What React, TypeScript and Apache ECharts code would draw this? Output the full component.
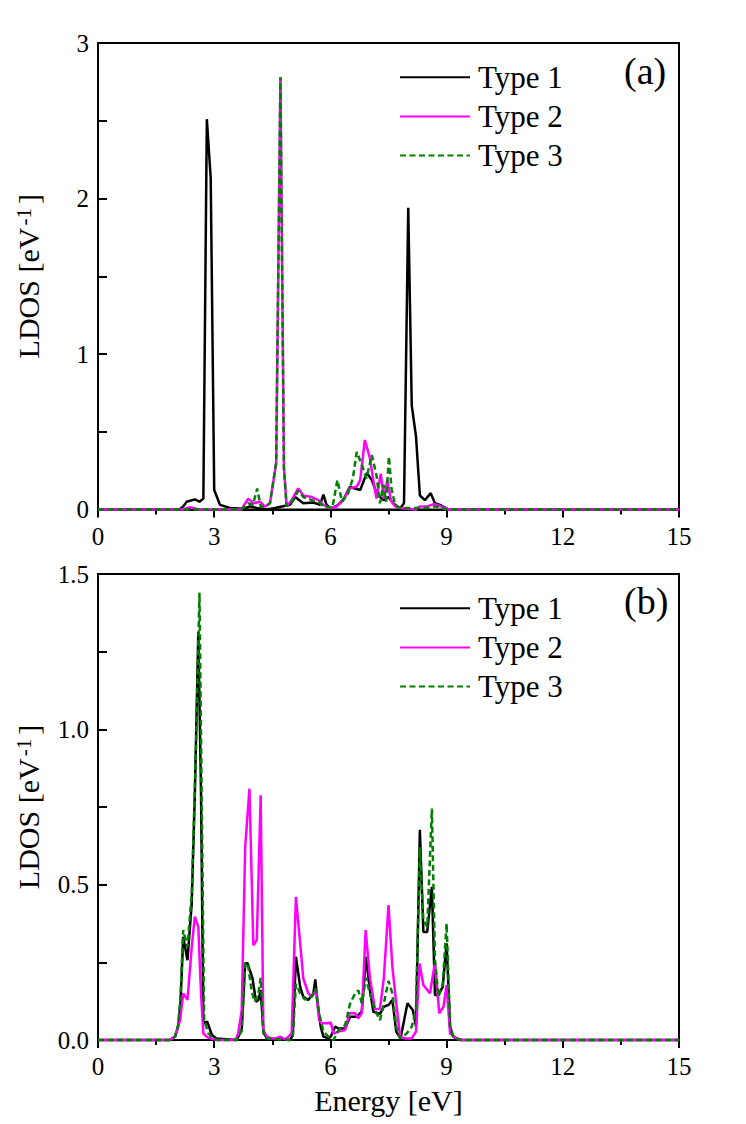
import React, { useEffect, useRef } from "react";
import * as echarts from "echarts";

// ---------- data (Energy [eV], LDOS [eV^-1]) ----------
const seriesNames = ["Type 1", "Type 2", "Type 3"];
const seriesColors = ["#000000", "#ff00ff", "#008000"];
const panelLabels = ["(a)", "(b)"];
const energyTicks = [0, 3, 6, 9, 12, 15];

// Panel (a)
const type1A: [number, number][] = [
  [0, 0], [2.1, 0], [2.2, 0.02], [2.29, 0.05], [2.5, 0.065], [2.62, 0.05], [2.72, 0.07],
  [2.81, 2.51], [2.91, 2.13], [3.0, 0.125], [3.15, 0.03], [3.41, 0.01], [3.75, 0.005],
  [3.92, 0.02], [4.1, 0.01], [4.36, 0.0], [4.57, 0.01], [4.96, 0.03], [5.09, 0.08],
  [5.3, 0.04], [5.56, 0.045], [5.73, 0.03], [5.82, 0.095], [5.9, 0.03], [6.03, 0.005],
  [6.2, 0.03], [6.35, 0.07], [6.5, 0.145], [6.77, 0.125], [6.94, 0.235], [7.07, 0.19],
  [7.2, 0.1], [7.37, 0.06], [7.5, 0.08], [7.62, 0.04], [7.8, 0.007], [7.9, 0.04],
  [8.01, 1.94], [8.1, 0.67], [8.21, 0.47], [8.31, 0.09], [8.44, 0.06], [8.59, 0.105],
  [8.7, 0.04], [8.83, 0.03], [9.05, 0], [15, 0],
];
const type2A: [number, number][] = [
  [0, 0], [2.2, 0], [2.375, 0.015], [2.6, 0], [3.7, 0], [3.88, 0.07], [4.01, 0.04],
  [4.18, 0.05], [4.31, 0.018], [4.44, 0.04], [4.6, 0.3], [4.71, 2.78], [4.8, 0.27],
  [4.87, 0.02], [5.0, 0.06], [5.17, 0.136], [5.3, 0.09], [5.52, 0.08], [5.69, 0.06],
  [5.82, 0.03], [5.99, 0.007], [6.16, 0.018], [6.33, 0.06], [6.5, 0.136], [6.68, 0.147],
  [6.77, 0.19], [6.89, 0.447], [7.02, 0.33], [7.1, 0.2], [7.19, 0.07], [7.3, 0.23],
  [7.38, 0.07], [7.47, 0.19], [7.56, 0.06], [7.67, 0.02], [7.8, 0.01], [8.2, 0],
  [8.31, 0.02], [8.5, 0.02], [8.67, 0.035], [8.85, 0.02], [9.05, 0], [15, 0],
];
const type3A: [number, number][] = [
  [0, 0], [3.7, 0], [3.88, 0.04], [4.0, 0.03], [4.11, 0.135], [4.2, 0.02], [4.31, 0.02],
  [4.44, 0.04], [4.6, 0.3], [4.71, 2.78], [4.8, 0.27], [4.87, 0.02], [5.0, 0.05],
  [5.17, 0.12], [5.3, 0.08], [5.52, 0.06], [5.69, 0.05], [5.82, 0.02], [6.05, 0.01],
  [6.18, 0.19], [6.3, 0.05], [6.45, 0.1], [6.58, 0.2], [6.68, 0.37], [6.81, 0.29],
  [6.93, 0.2], [7.07, 0.35], [7.19, 0.22], [7.28, 0.04], [7.37, 0.16], [7.44, 0.05],
  [7.51, 0.34], [7.58, 0.13], [7.67, 0.03], [7.8, 0.01], [8.5, 0.01], [8.7, 0.02],
  [9.0, 0], [15, 0],
];

// Panel (b)
const type1B: [number, number][] = [
  [0, 0], [1.86, 0], [1.99, 0.011], [2.07, 0.043], [2.13, 0.118], [2.2, 0.332], [2.31, 0.257],
  [2.42, 0.44], [2.5, 0.79], [2.59, 1.313], [2.66, 0.79], [2.72, 0.054], [2.82, 0.059],
  [2.94, 0.016], [3.06, 0.005], [3.58, 0], [3.71, 0.032], [3.8, 0.247], [3.86, 0.247],
  [3.99, 0.198], [4.08, 0.123], [4.14, 0.129], [4.2, 0.161], [4.27, 0.027], [4.36, 0.005],
  [4.96, 0], [5.03, 0.016], [5.11, 0.268], [5.22, 0.171], [5.3, 0.139], [5.43, 0.129],
  [5.56, 0.15], [5.61, 0.195], [5.68, 0.107], [5.75, 0.043], [5.82, 0.011], [5.95, 0.005],
  [6.01, 0.011], [6.12, 0.043], [6.21, 0.037], [6.38, 0.037], [6.51, 0.075], [6.68, 0.075],
  [6.81, 0.091], [6.92, 0.268], [7.02, 0.161], [7.11, 0.091], [7.28, 0.084], [7.38, 0.107],
  [7.5, 0.113], [7.6, 0.129], [7.7, 0.027], [7.81, 0.005], [7.99, 0.118], [8.13, 0.096],
  [8.21, 0.043], [8.31, 0.677], [8.4, 0.348], [8.5, 0.348], [8.62, 0.493], [8.7, 0.145],
  [8.79, 0.145], [8.9, 0.171], [9.0, 0.311], [9.09, 0.043], [9.17, 0.011], [9.35, 0], [15, 0],
];
const type2B: [number, number][] = [
  [0, 0], [1.86, 0], [1.99, 0.011], [2.12, 0.064], [2.2, 0.15], [2.31, 0.129], [2.42, 0.3],
  [2.5, 0.397], [2.59, 0.364], [2.66, 0.15], [2.72, 0.021], [2.82, 0.009], [3.06, 0],
  [3.55, 0], [3.62, 0.021], [3.71, 0.096], [3.8, 0.622], [3.91, 0.809], [4.01, 0.305],
  [4.1, 0.322], [4.2, 0.788], [4.27, 0.032], [4.36, 0.011], [4.48, 0.005], [4.6, 0.005],
  [4.7, 0.011], [4.8, 0.004], [4.87, 0.005], [5.0, 0.021], [5.11, 0.461], [5.22, 0.311],
  [5.3, 0.198], [5.43, 0.15], [5.52, 0.139], [5.63, 0.161], [5.71, 0.064], [5.77, 0.054],
  [5.92, 0.054], [6.01, 0.056], [6.08, 0.021], [6.21, 0.027], [6.38, 0.032], [6.49, 0.086],
  [6.64, 0.086], [6.72, 0.07], [6.81, 0.086], [6.91, 0.354], [7.02, 0.2], [7.15, 0.1],
  [7.28, 0.1], [7.38, 0.2], [7.5, 0.434], [7.6, 0.236], [7.7, 0.118], [7.8, 0.011],
  [7.93, 0.005], [8.1, 0.005], [8.21, 0.027], [8.3, 0.246], [8.4, 0.177], [8.57, 0.15],
  [8.7, 0.25], [8.81, 0.086], [8.92, 0.107], [9.0, 0.177], [9.09, 0.021], [9.26, 0.005],
  [9.4, 0], [15, 0],
];
const type3B: [number, number][] = [
  [0, 0], [1.86, 0], [1.99, 0.011], [2.07, 0.05], [2.13, 0.14], [2.2, 0.354], [2.31, 0.3],
  [2.42, 0.47], [2.53, 0.94], [2.62, 1.44], [2.68, 0.75], [2.74, 0.064], [2.85, 0.021],
  [2.97, 0.005], [3.1, 0], [3.58, 0], [3.71, 0.03], [3.8, 0.25], [3.88, 0.236], [3.97, 0.155],
  [4.05, 0.123], [4.14, 0.15], [4.2, 0.2], [4.27, 0.021], [4.36, 0.005], [4.96, 0],
  [5.03, 0.015], [5.11, 0.18], [5.22, 0.15], [5.34, 0.13], [5.52, 0.14], [5.61, 0.166],
  [5.71, 0.086], [5.82, 0.027], [5.95, 0.011], [6.08, 0], [6.21, 0.032], [6.38, 0.048],
  [6.51, 0.118], [6.64, 0.15], [6.72, 0.16], [6.81, 0.118], [6.92, 0.2], [7.02, 0.15],
  [7.15, 0.096], [7.28, 0.064], [7.38, 0.118], [7.5, 0.19], [7.6, 0.15], [7.7, 0.043],
  [7.8, 0.005], [7.97, 0.021], [8.1, 0.043], [8.21, 0.1], [8.31, 0.62], [8.4, 0.386],
  [8.5, 0.364], [8.62, 0.745], [8.7, 0.257], [8.79, 0.14], [8.9, 0.18], [9.0, 0.375],
  [9.09, 0.043], [9.17, 0.011], [9.35, 0], [15, 0],
];

const panelData = [
  [type1A, type2A, type3A],
  [type1B, type2B, type3B],
];
const yMax = [3, 1.5];
const yInterval = [1, 0.5];

const FONT = "Liberation Serif";

function buildOption() {
  const grids = [
    { left: 98, right: 67, top: 43, height: 466.5 },
    { left: 98, right: 67, top: 574, height: 466 },
  ].map((g) => ({
    ...g,
    show: true,
    borderColor: "#000",
    borderWidth: 2,
    backgroundColor: "transparent",
  }));

  const xAxes = [0, 1].map((i) => ({
    type: "value",
    gridIndex: i,
    min: energyTicks[0],
    max: energyTicks[energyTicks.length - 1],
    interval: 3,
    name: i === 1 ? "Energy [eV]" : "",
    nameLocation: "middle",
    nameGap: 45,
    nameTextStyle: { fontFamily: FONT, fontSize: 30, color: "#000" },
    axisLine: { show: true, lineStyle: { color: "#000", width: 2 } },
    axisTick: { show: true, inside: false, length: 8, lineStyle: { color: "#000", width: 2 } },
    minorTick: { show: true, splitNumber: 2, length: 5, lineStyle: { color: "#000", width: 2 } },
    axisLabel: { fontFamily: FONT, fontSize: 25, color: "#000", margin: 14 },
    splitLine: { show: false },
    minorSplitLine: { show: false },
  }));

  const yAxes = [0, 1].map((i) => ({
    type: "value",
    gridIndex: i,
    min: 0,
    max: yMax[i],
    interval: yInterval[i],
    name: "{a|LDOS [eV}{b|-1}{a|]}",
    nameLocation: "middle",
    nameGap: 55,
    nameTextStyle: {
      fontFamily: FONT,
      fontSize: 30,
      color: "#000",
      rich: {
        a: { fontFamily: FONT, fontSize: 30, color: "#000" },
        b: { fontFamily: FONT, fontSize: 21, color: "#000", verticalAlign: "top", padding: [0, 4, 0, 2] },
      },
    },
    axisLine: { show: true, lineStyle: { color: "#000", width: 2 } },
    axisTick: { show: true, inside: true, length: 9, lineStyle: { color: "#000", width: 2 } },
    minorTick: { show: true, splitNumber: 2, length: 9, lineStyle: { color: "#000", width: 2 } },
    axisLabel: {
      fontFamily: FONT,
      fontSize: 25,
      color: "#000",
      margin: 9,
      formatter: (v: number) => (i === 1 ? v.toFixed(1) : String(v)),
    },
    splitLine: { show: false },
    minorSplitLine: { show: false },
  }));

  const series: any[] = [];
  panelData.forEach((panel, p) => {
    panel.forEach((data, k) => {
      series.push({
        type: "line",
        name: seriesNames[k],
        xAxisIndex: p,
        yAxisIndex: p,
        data,
        symbol: "none",
        clip: false,
        z: 2 + k,
        lineStyle: {
          color: seriesColors[k],
          width: 2.5,
          type: k === 2 ? [6, 3.5] : "solid",
        },
        itemStyle: { color: seriesColors[k] },
      });
    });
  });

  const legendTops = [61.7, 592.7];
  const legends = legendTops.map((top) => ({
    data: seriesNames,
    orient: "vertical",
    left: 399,
    top,
    padding: 0,
    itemWidth: 70,
    itemHeight: 14,
    itemGap: 8.2,
    selectedMode: false,
    itemStyle: { opacity: 0 },
    textStyle: {
      fontFamily: FONT,
      fontSize: 31,
      color: "#000",
      lineHeight: 30,
      padding: [0, 0, 0, 3],
    },
  }));

  const titles = panelLabels.map((t, i) => ({
    text: t,
    left: 624,
    top: i === 0 ? 52 : 582,
    padding: 0,
    textStyle: { fontFamily: FONT, fontSize: 38, fontWeight: "normal", color: "#000" },
  }));

  return {
    animation: false,
    backgroundColor: "#fff",
    title: titles,
    legend: legends,
    grid: grids,
    xAxis: xAxes,
    yAxis: yAxes,
    series,
  };
}

export default function App() {
  const ref = useRef<HTMLDivElement>(null);
  useEffect(() => {
    if (!ref.current) return;
    const chart = echarts.init(ref.current, null, { renderer: "svg" });
    chart.setOption(buildOption() as any);
    return () => chart.dispose();
  }, []);
  return (
    <div
      ref={ref}
      style={{ position: "fixed", left: 0, top: 0, width: 746, height: 1124, background: "#fff" }}
    />
  );
}
